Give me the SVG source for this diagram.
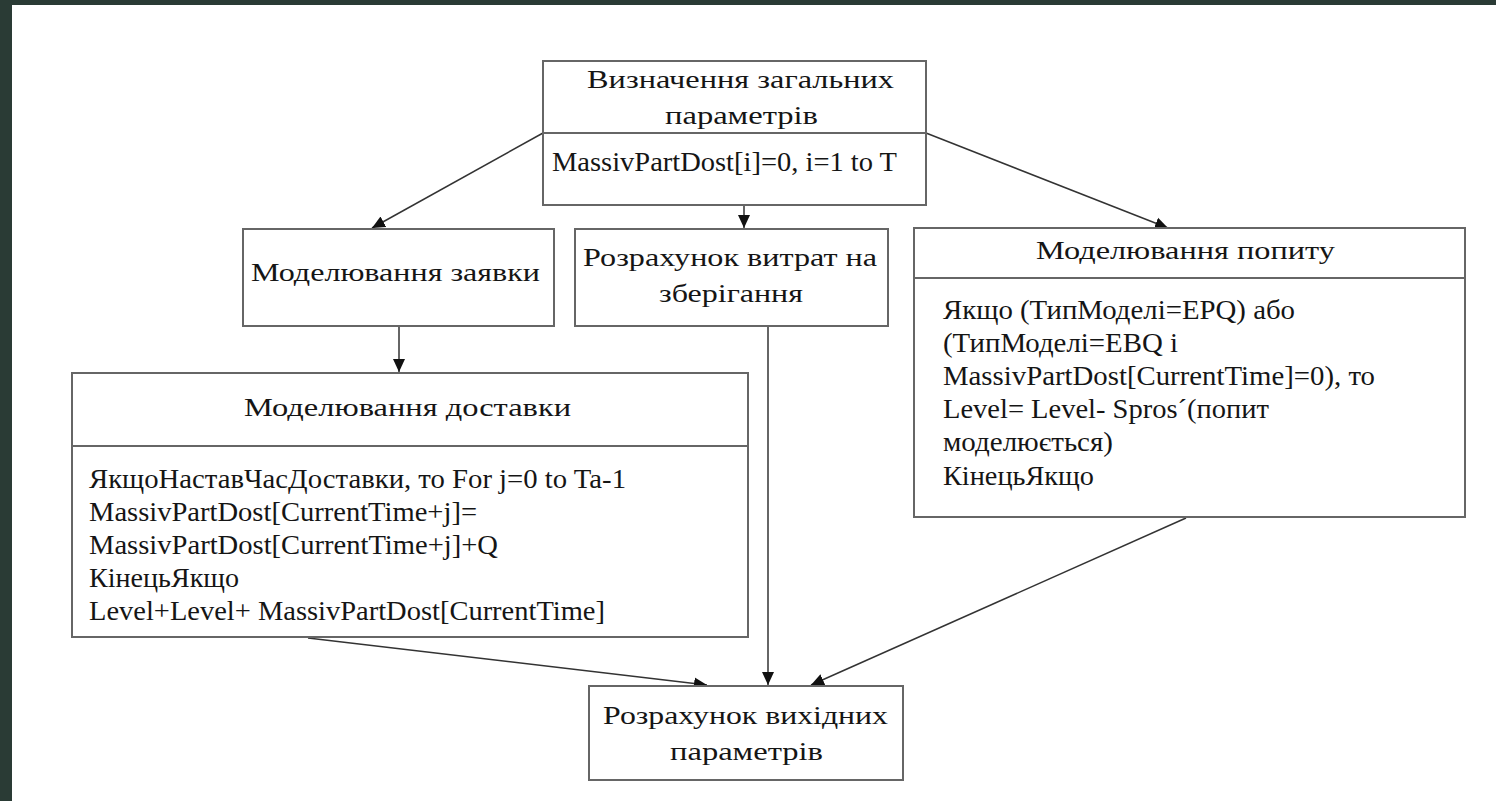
<svg xmlns="http://www.w3.org/2000/svg" width="1496" height="801" viewBox="0 0 1496 801">
<style>
.box{fill:#fff;stroke:#666;stroke-width:2}
.div{stroke:#666;stroke-width:2}
.conn{stroke:#333;stroke-width:1.5;fill:none}
.t{font-family:"Liberation Serif","Times New Roman",serif;fill:#151515;font-size:25px}
.b{font-family:"Liberation Serif","Times New Roman",serif;fill:#151515;font-size:27px}
</style>
<defs>
<marker id="ah" markerUnits="userSpaceOnUse" markerWidth="14" markerHeight="14" viewBox="0 0 14 14" refX="13" refY="7" orient="auto">
<path d="M0,1 L13,7 L0,13 Z" fill="#111"/>
</marker>
</defs>
<rect x="0" y="0" width="1496" height="801" fill="#fff"/>
<rect x="0" y="0" width="1496" height="5" fill="#2a3b35"/>
<rect x="0" y="0" width="12" height="801" fill="#2a3b35"/>

<g id="connectors">
<path class="conn" d="M543,133 L372,228" marker-end="url(#ah)"/>
<path class="conn" d="M744,205 L744,228" marker-end="url(#ah)"/>
<path class="conn" d="M926,133 L1168,228" marker-end="url(#ah)"/>
<path class="conn" d="M399,327 L399,372" marker-end="url(#ah)"/>
<path class="conn" d="M768,327 L768,685" marker-end="url(#ah)"/>
<path class="conn" d="M308,638 L707,685" marker-end="url(#ah)"/>
<path class="conn" d="M1186,518 L811,685" marker-end="url(#ah)"/>
</g>

<g id="node-general">
<rect class="box" x="543" y="61" width="383" height="144"/>
<line class="div" x1="543" y1="133" x2="926" y2="133"/>
<text class="t" x="587" y="88" textLength="307" lengthAdjust="spacingAndGlyphs">Визначення загальних</text>
<text class="t" x="665" y="124" textLength="153" lengthAdjust="spacingAndGlyphs">параметрів</text>
<text class="b" x="552" y="171" textLength="345" lengthAdjust="spacingAndGlyphs">MassivPartDost[i]=0, i=1 to T</text>
</g>

<g id="node-order">
<rect class="box" x="243" y="229" width="311" height="97"/>
<text class="t" x="251" y="281" textLength="289" lengthAdjust="spacingAndGlyphs">Моделювання заявки</text>
</g>

<g id="node-storage">
<rect class="box" x="575" y="229" width="313" height="97"/>
<text class="t" x="583" y="266" textLength="294" lengthAdjust="spacingAndGlyphs">Розрахунок витрат на</text>
<text class="t" x="659" y="302" textLength="144" lengthAdjust="spacingAndGlyphs">зберігання</text>
</g>

<g id="node-demand">
<rect class="box" x="914" y="228" width="551" height="289"/>
<line class="div" x1="914" y1="278" x2="1465" y2="278"/>
<text class="t" x="1036" y="259" textLength="299" lengthAdjust="spacingAndGlyphs">Моделювання попиту</text>
<text class="b" x="943" y="319" textLength="352" lengthAdjust="spacingAndGlyphs">Якщо (ТипМоделі=EPQ) або</text>
<text class="b" x="943" y="352" textLength="235" lengthAdjust="spacingAndGlyphs">(ТипМоделі=EBQ і</text>
<text class="b" x="943" y="385" textLength="432" lengthAdjust="spacingAndGlyphs">MassivPartDost[CurrentTime]=0), то</text>
<text class="b" x="943" y="418" textLength="326" lengthAdjust="spacingAndGlyphs">Level= Level- Spros´(попит</text>
<text class="b" x="943" y="451" textLength="170" lengthAdjust="spacingAndGlyphs">моделюється)</text>
<text class="b" x="943" y="485" textLength="151" lengthAdjust="spacingAndGlyphs">КінецьЯкщо</text>
</g>

<g id="node-delivery">
<rect class="box" x="72" y="373" width="676" height="264"/>
<line class="div" x1="72" y1="446" x2="748" y2="446"/>
<text class="t" x="244" y="416" textLength="327" lengthAdjust="spacingAndGlyphs">Моделювання доставки</text>
<text class="b" x="89" y="488" textLength="537" lengthAdjust="spacingAndGlyphs">ЯкщоНаставЧасДоставки, то For j=0 to Ta-1</text>
<text class="b" x="89" y="521" textLength="388" lengthAdjust="spacingAndGlyphs">MassivPartDost[CurrentTime+j]=</text>
<text class="b" x="89" y="554" textLength="409" lengthAdjust="spacingAndGlyphs">MassivPartDost[CurrentTime+j]+Q</text>
<text class="b" x="89" y="587" textLength="150" lengthAdjust="spacingAndGlyphs">КінецьЯкщо</text>
<text class="b" x="89" y="620" textLength="516" lengthAdjust="spacingAndGlyphs">Level+Level+ MassivPartDost[CurrentTime]</text>
</g>

<g id="node-output">
<rect class="box" x="589" y="686" width="314" height="94"/>
<text class="t" x="603" y="724" textLength="285" lengthAdjust="spacingAndGlyphs">Розрахунок вихідних</text>
<text class="t" x="670" y="760" textLength="153" lengthAdjust="spacingAndGlyphs">параметрів</text>
</g>
</svg>
